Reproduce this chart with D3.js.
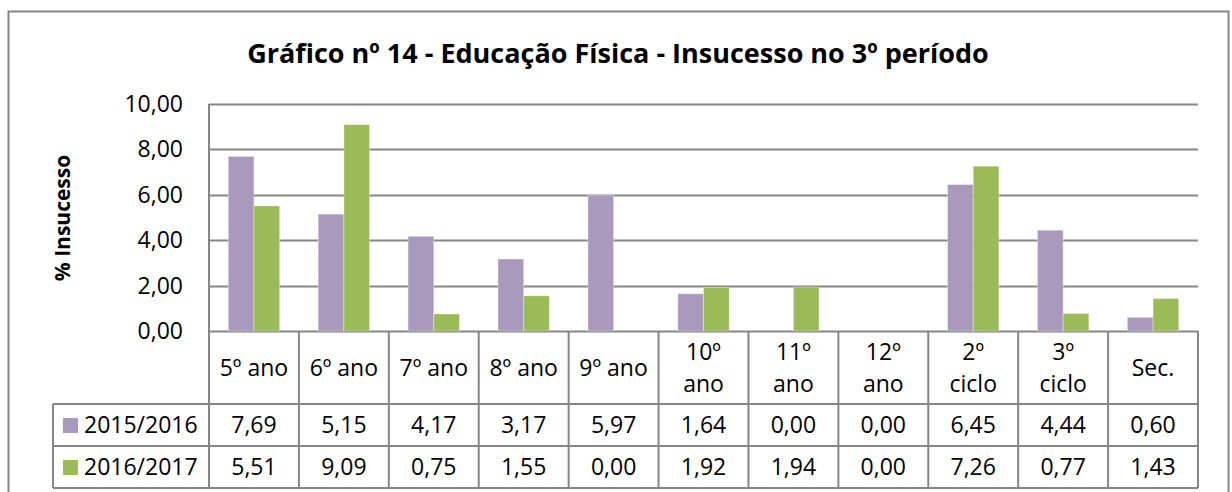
<!DOCTYPE html>
<html>
<head>
<meta charset="utf-8">
<script src="https://cdn.jsdelivr.net/npm/d3@7"></script>
<style>
  body { margin: 0; background: #fff; }
  svg { display: block; font-family: "Open Sans", sans-serif; }
</style>
</head>
<body>
<div class="canvas"></div>
<script>
// data
var categories = ['5º ano', '6º ano', '7º ano', '8º ano', '9º ano', '10º ano', '11º ano', '12º ano', '2º ciclo', '3º ciclo', 'Sec.'];
var catLines = [['5º ano'], ['6º ano'], ['7º ano'], ['8º ano'], ['9º ano'], ['10º', 'ano'], ['11º', 'ano'], ['12º', 'ano'], ['2º', 'ciclo'], ['3º', 'ciclo'], ['Sec.']];
var seriesNames = ['2015/2016', '2016/2017'];
var values2015 = [7.69, 5.15, 4.17, 3.17, 5.97, 1.64, 0.00, 0.00, 6.45, 4.44, 0.60];
var values2016 = [5.51, 9.09, 0.75, 1.55, 0.00, 1.92, 1.94, 0.00, 7.26, 0.77, 1.43];
var yTicks = [0, 2, 4, 6, 8, 10];
var colors = ['#a99abd', '#9bbb59'];

var width = 1232, height = 492,
    plot = { left: 209, right: 1198, top: 104, bottom: 331 },
    rowH = [331, 404, 446, 488],
    legendLeft = 53;

var fmt = function (v) { return v.toFixed(2).replace('.', ','); };

var svg = d3.select('.canvas').append('svg')
    .attr('width', width)
    .attr('height', height);

// outer chart frame (bottom edge falls outside the picture)
svg.append('rect')
    .attr('x', 8.5).attr('y', 11.5)
    .attr('width', 1220).attr('height', 500)
    .attr('fill', 'none')
    .attr('stroke', '#868686')
    .attr('stroke-width', 2);

svg.append('text')
    .attr('x', 618).attr('y', 63)
    .attr('text-anchor', 'middle')
    .attr('font-weight', 'bold')
    .attr('font-size', 27)
    .text('Gráfico nº 14 - Educação Física - Insucesso no 3º período');

var x = d3.scaleBand()
    .domain(categories)
    .range([plot.left, plot.right]);

var x1 = d3.scaleBand()
    .domain(seriesNames)
    .range([0, x.bandwidth()])
    .paddingOuter(0.75);

var y = d3.scaleLinear()
    .domain([0, 10])
    .range([plot.bottom, plot.top]);

// gridlines
svg.append('g').selectAll('line')
    .data(yTicks)
    .enter().append('line')
    .attr('x1', plot.left).attr('x2', plot.right)
    .attr('y1', function (d) { return Math.round(y(d)) + 0.5; })
    .attr('y2', function (d) { return Math.round(y(d)) + 0.5; })
    .attr('stroke', '#868686')
    .attr('stroke-width', 2);

// y tick labels
svg.append('g').selectAll('text')
    .data(yTicks)
    .enter().append('text')
    .attr('x', 183)
    .attr('y', function (d) { return y(d); })
    .attr('dy', '0.35em')
    .attr('text-anchor', 'end')
    .attr('font-size', 23)
    .attr('fill', '#000')
    .text(fmt);

svg.append('text')
    .attr('transform', 'translate(70,218) rotate(-90)')
    .attr('text-anchor', 'middle')
    .attr('font-weight', 'bold')
    .attr('font-size', 21)
    .text('% Insucesso');

// bars
var series = [values2015, values2016];
var groups = svg.append('g').selectAll('g')
    .data(series)
    .enter().append('g')
    .attr('fill', function (d, i) { return colors[i]; });

groups.selectAll('rect')
    .data(function (d, i) {
        return d.map(function (v, j) { return { s: seriesNames[i], c: categories[j], v: v }; });
    })
    .enter().append('rect')
    .attr('x', function (d) { return x(d.c) + x1(d.s); })
    .attr('width', x1.bandwidth())
    .attr('y', function (d) { return y(d.v); })
    .attr('height', function (d) { return y(0) - y(d.v); })
    .attr('stroke', '#fff')
    .attr('stroke-opacity', 0.35)
    .attr('stroke-width', 1);

// data table
var grid = svg.append('g')
    .attr('stroke', '#868686')
    .attr('stroke-width', 2)
    .attr('fill', 'none');

// vertical axis line
grid.append('line')
    .attr('x1', plot.left).attr('x2', plot.left)
    .attr('y1', plot.top).attr('y2', rowH[3]);

// category column lines
grid.selectAll('.vcol')
    .data(categories)
    .enter().append('line')
    .attr('class', 'vcol')
    .attr('x1', function (d) { return x(d) + x.bandwidth(); })
    .attr('x2', function (d) { return x(d) + x.bandwidth(); })
    .attr('y1', plot.bottom).attr('y2', rowH[3]);

// horizontal row lines
[1, 2, 3].forEach(function (r) {
    grid.append('line')
        .attr('x1', legendLeft).attr('x2', plot.right)
        .attr('y1', rowH[r]).attr('y2', rowH[r]);
});
grid.append('line')
    .attr('x1', legendLeft).attr('x2', legendLeft)
    .attr('y1', rowH[1]).attr('y2', rowH[3]);

// header labels
var head = svg.append('g').selectAll('text')
    .data(catLines)
    .enter().append('text')
    .attr('text-anchor', 'middle')
    .attr('font-size', 23)
    .attr('x', function (d, i) { return x(categories[i]) + x.bandwidth() / 2; });

head.selectAll('tspan')
    .data(function (d) { return d.map(function (t, k) { return { t: t, k: k, n: d.length }; }); })
    .enter().append('tspan')
    .attr('x', function () { return d3.select(this.parentNode).attr('x'); })
    .attr('y', function (d) {
        return d.n === 1 ? 368 : 352 + d.k * 32;
    })
    .attr('dy', '0.35em')
    .text(function (d) { return d.t; });

// rows
seriesNames.forEach(function (name, i) {
    var cy = (rowH[i + 1] + rowH[i + 2]) / 2;
    svg.append('rect')
        .attr('x', 63).attr('y', cy - 7)
        .attr('width', 15).attr('height', 15)
        .attr('fill', colors[i]);
    svg.append('text')
        .attr('x', 84).attr('y', cy)
        .attr('dy', '0.35em')
        .attr('font-size', 23)
        .text(name);
    svg.append('g').selectAll('text')
        .data(series[i])
        .enter().append('text')
        .attr('x', function (d, j) { return x(categories[j]) + x.bandwidth() / 2; })
        .attr('y', cy)
        .attr('dy', '0.35em')
        .attr('text-anchor', 'middle')
        .attr('font-size', 23)
        .text(fmt);
});
</script>
</body>
</html>
